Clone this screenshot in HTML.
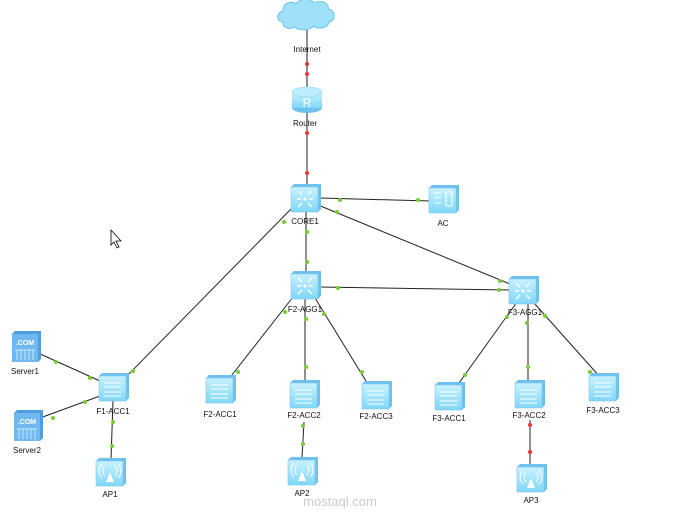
<!DOCTYPE html>
<html><head><meta charset="utf-8"><style>
html,body{margin:0;padding:0;background:#fff;width:682px;height:520px;overflow:hidden}
text{font-family:"Liberation Sans",sans-serif;font-size:8px;fill:#111;text-anchor:middle}
</style></head><body>
<svg width="682" height="520" viewBox="0 0 682 520" xmlns="http://www.w3.org/2000/svg">
<defs>
<linearGradient id="g" x1="0" y1="0" x2="0" y2="1"><stop offset="0" stop-color="#c8f2ff"/><stop offset="1" stop-color="#7fd7f7"/></linearGradient>
<g id="box">
<path d="M-14,-11 L-11,-14 L16,-14 L16,11 L13,14 L-14,14 Z" fill="#6ec1ec"/>
<rect x="-14" y="-11" width="27" height="25" fill="url(#g)" stroke="#7cc6ee" stroke-width="0.6"/>
</g>
<g id="sw"><use href="#box"/><path d="M-9,-4 H8 M-9,0 H8 M-9,5 H8 M-9,9 H8" stroke="#fff" stroke-width="1"/></g>
<g id="core"><use href="#box"/><path d="M-7,-7 L-3,-3 M7,-7 L3,-3 M-7,9 L-3,5 M7,9 L3,5 M-8,1 H-4 M4,1 H8" stroke="#fff" stroke-width="1.4"/><circle cx="0" cy="1" r="1.6" fill="#fff"/></g>
<g id="ap"><use href="#box"/><path d="M0,0 L-4,10 H4 Z" fill="#fff"/><path d="M-5,-6 A7,7 0 0 0 -5,4 M5,-6 A7,7 0 0 1 5,4 M-8,-8 A10,10 0 0 0 -8,6 M8,-8 A10,10 0 0 1 8,6" stroke="#fff" fill="none" stroke-width="0.9"/></g>
<g id="srv"><path d="M-13,-13 L-10,-16 L16,-16 L16,12 L13,15 L-13,15 Z" fill="#4f9fe0"/><rect x="-13" y="-13" width="26" height="28" fill="#72b8f0"/><text x="0" y="-2" style="font-size:7px;font-weight:bold;fill:#fff">.COM</text><path d="M-10,3 H10 M-8,3 V13 M-4,3 V13 M0,3 V13 M4,3 V13 M8,3 V13" stroke="#dff" stroke-width="0.7"/></g>
</defs>
<g stroke="#222" stroke-width="1" fill="none">
<line x1="307" y1="30" x2="307" y2="88"/>
<line x1="307" y1="113" x2="307" y2="185"/>
<line x1="320" y1="198" x2="430" y2="201"/>
<line x1="318" y1="205" x2="510" y2="284"/>
<line x1="292" y1="208" x2="125" y2="378"/>
<line x1="306" y1="210" x2="306" y2="273"/>
<line x1="320" y1="287" x2="510" y2="290"/>
<line x1="293" y1="297" x2="228" y2="380"/>
<line x1="305" y1="298" x2="305" y2="380"/>
<line x1="315" y1="298" x2="366" y2="381"/>
<line x1="517" y1="302" x2="459" y2="383"/>
<line x1="528" y1="303" x2="528" y2="380"/>
<line x1="534" y1="303" x2="600" y2="377"/>
<line x1="38" y1="353" x2="100" y2="381"/>
<line x1="40" y1="418" x2="100" y2="396"/>
<line x1="113" y1="400" x2="111" y2="460"/>
<line x1="304" y1="422" x2="302" y2="458"/>
<line x1="530" y1="420" x2="530" y2="465"/>
</g>
<g fill="#e33">
<circle cx="307" cy="64" r="2"/><circle cx="307" cy="74" r="2"/><circle cx="307" cy="133" r="2"/><circle cx="307" cy="173" r="2"/>
<circle cx="530" cy="425" r="2"/><circle cx="530" cy="452" r="2"/>
</g>
<g fill="#7c3">
<circle cx="340" cy="200" r="2"/><circle cx="418" cy="200" r="2"/><circle cx="337" cy="212" r="2"/><circle cx="284" cy="222" r="2"/><circle cx="307" cy="232" r="2"/><circle cx="307" cy="262" r="2"/>
<circle cx="338" cy="288" r="2"/><circle cx="499" cy="290" r="2"/><circle cx="500" cy="281" r="2"/>
<circle cx="285" cy="312" r="2"/><circle cx="306" cy="319" r="2"/><circle cx="324" cy="314" r="2"/><circle cx="306" cy="367" r="2"/><circle cx="362" cy="372" r="2"/><circle cx="238" cy="372" r="2"/>
<circle cx="507" cy="317" r="2"/><circle cx="527" cy="323" r="2"/><circle cx="545" cy="316" r="2"/><circle cx="528" cy="367" r="2"/><circle cx="465" cy="375" r="2"/><circle cx="590" cy="372" r="2"/>
<circle cx="56" cy="362" r="2"/><circle cx="90" cy="378" r="2"/><circle cx="53" cy="418" r="2"/><circle cx="85" cy="402" r="2"/><circle cx="133" cy="371" r="2"/><circle cx="113" cy="422" r="2"/><circle cx="112" cy="446" r="2"/>
<circle cx="303" cy="426" r="2"/><circle cx="303" cy="444" r="2"/>
</g>
<path d="M283,22 C276,22 276,12 283,11 C282,3 292,0 296,4 C299,-2 312,-2 314,3 C320,-1 330,3 328,9 C336,10 336,21 329,22 C328,28 318,30 314,26 C310,31 298,31 295,27 C290,30 282,28 283,22 Z" fill="#9fe0fb" stroke="#6cc5f0"/>
<text x="307" y="52">Internet</text>
<ellipse cx="307" cy="108" rx="15" ry="5" fill="#6ec1ec"/><rect x="292" y="92" width="30" height="16" fill="url(#g)"/><ellipse cx="307" cy="92" rx="15" ry="5" fill="#bdeeff" stroke="#8cd" stroke-width="0.5"/>
<text x="307" y="107" style="font-size:12px;fill:#fff">R</text>
<text x="305" y="126">Router</text>
<use href="#core" x="305" y="198"/><text x="305" y="224">CORE1</text>
<use href="#box" x="443" y="199"/><path d="M434,193h7m-7,5h7m-7,5h7M446,192h6v14h-6z" stroke="#fff" fill="none"/><text x="443" y="226">AC</text>
<use href="#core" x="305" y="285"/><text x="305" y="312">F2-AGG1</text>
<use href="#core" x="523" y="290"/><text x="525" y="315">F3-AGG1</text>
<use href="#srv" x="25" y="347"/><text x="25" y="374">Server1</text>
<use href="#srv" x="27" y="426"/><text x="27" y="453">Server2</text>
<use href="#sw" x="113" y="387"/><text x="113" y="414">F1-ACC1</text>
<use href="#ap" x="110" y="472"/><text x="110" y="497">AP1</text>
<use href="#sw" x="220" y="389"/><text x="220" y="417">F2-ACC1</text>
<use href="#sw" x="304" y="394"/><text x="304" y="418">F2-ACC2</text>
<use href="#sw" x="376" y="395"/><text x="376" y="419">F2-ACC3</text>
<use href="#sw" x="449" y="396"/><text x="449" y="421">F3-ACC1</text>
<use href="#sw" x="529" y="394"/><text x="529" y="418">F3-ACC2</text>
<use href="#sw" x="603" y="387"/><text x="603" y="413">F3-ACC3</text>
<use href="#ap" x="302" y="471"/><text x="302" y="496">AP2</text>
<use href="#ap" x="531" y="478"/><text x="531" y="503">AP3</text>
<text x="340" y="506" style="font-size:13px;fill:#ccc">mostaql.com</text>
<path d="M111,230 L111,245 L114,242 L117,248 L119,247 L116,241 L121,241 Z" fill="#fff" stroke="#000" stroke-width="0.8"/>
</svg>
</body></html>
